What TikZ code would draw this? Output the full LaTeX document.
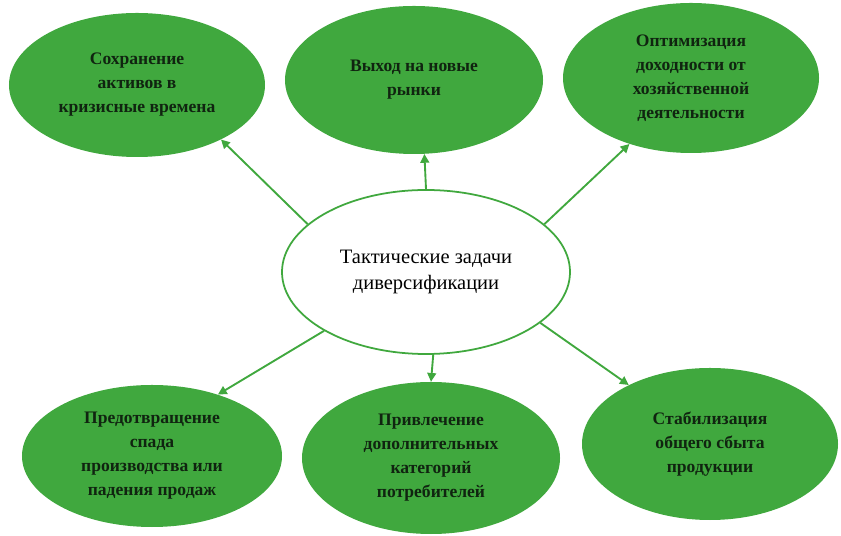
\documentclass[tikz,border=0pt]{standalone}
\usepackage{fontspec}
\setmainfont{Liberation Serif}
\newfontfamily\timesfont{Liberation Serif}
\usepackage{tikz}
\usetikzlibrary{shapes.geometric, arrows.meta}
\definecolor{LeafGreen}{HTML}{40A83E}
\definecolor{DarkInk}  {HTML}{102410}

\begin{document}
\begin{tikzpicture}[
  x=0.03cm, y=0.03cm,
  goal/.style={ellipse, fill=LeafGreen, inner sep=0pt, align=center,
    text=DarkInk, font=\timesfont\bfseries\fontsize{15}{20.5}\selectfont},
  core/.style={ellipse, draw=LeafGreen, line width=1.5pt, fill=white,
    inner sep=0pt, align=center, font=\timesfont\fontsize{17.5}{23}\selectfont},
  link/.style={draw=LeafGreen, line width=1.6pt,
    -{Triangle[length=7.5pt, width=7.5pt]}},
]
\useasboundingbox (0,0) rectangle (841,536);

% Centre
\node[core, minimum width=8.64cm, minimum height=4.92cm] (tasks) at (426,264)
  {Тактические задачи\\диверсификации};

% Upper row
\node[goal, minimum width=7.68cm, minimum height=4.32cm] (assets) at (137,451)
  {Сохранение\\активов в\\кризисные времена};
\node[goal, minimum width=7.74cm, minimum height=4.44cm] (markets) at (414,456)
  {Выход на новые\\рынки};
\node[goal, minimum width=7.68cm, minimum height=4.5cm] (income) at (691,458)
  {Оптимизация\\доходности от\\хозяйственной\\деятельности};

% Lower row
\node[goal, minimum width=7.8cm, minimum height=4.26cm] (decline) at (152,80)
  {Предотвращение\\спада\\производства или\\падения продаж};
\node[goal, minimum width=7.74cm, minimum height=4.56cm] (buyers) at (431,78)
  {Привлечение\\дополнительных\\категорий\\потребителей};
\node[goal, minimum width=7.68cm, minimum height=4.56cm] (sales) at (710,92)
  {Стабилизация\\общего сбыта\\продукции};

% Arrows
\draw[link] (tasks.158) -- (assets.-33);
\draw[link] (tasks.90)  -- (markets.-82);
\draw[link] (tasks.22)  -- (income.-133);
\draw[link] (tasks.210) -- (decline.43);
\draw[link] (tasks.275) -- (buyers.90);
\draw[link] (tasks.336) -- (sales.144);

\end{tikzpicture}
\end{document}
